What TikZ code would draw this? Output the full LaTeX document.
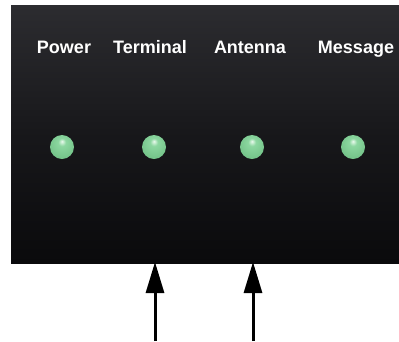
\documentclass[tikz,border=0pt]{standalone}
\usepackage{fontspec}
\setmainfont{Liberation Sans}
\usetikzlibrary{arrows.meta}
\definecolor{panelTop}{RGB}{44,44,48}
\definecolor{panelBot}{RGB}{10,10,12}
\definecolor{ledhi}{RGB}{235,250,238}
\definecolor{ledmid}{RGB}{140,215,160}
\definecolor{ledout}{RGB}{55,145,80}
\pgfdeclareradialshading{ledshade}{\pgfpoint{0bp}{12bp}}{color(0bp)=(ledhi); color(8bp)=(ledmid); color(30bp)=(ledmid!70!ledout); color(50bp)=(ledout)}
\tikzset{
  lbl/.style={text=white,font=\bfseries\fontsize{18}{21}\selectfont,inner sep=0pt,anchor=base},
  led/.style={circle,minimum size=24pt,inner sep=0pt,shading=ledshade},
  uparrow/.style={line width=3pt,-{Triangle[length=31pt,width=18pt]}}
}
\begin{document}
\begin{tikzpicture}[x=1pt,y=-1pt]
\useasboundingbox (0,0) rectangle (399,341);
\fill[white] (0,0) rectangle (399,341);
\shade[top color=panelTop,bottom color=panelBot,middle color=panelBot!60!panelTop] (11,5) rectangle (399,263);
\node[lbl] (power) at (64,53) {Power};
\node[lbl] (terminal) at (150,53) {Terminal};
\node[lbl] (antenna) at (250,53) {Antenna};
\node[lbl] (message) at (356,53) {Message};
\node[led] (l1) at (62,147) {};
\node[led] (l2) at (154,147) {};
\node[led] (l3) at (252,147) {};
\node[led] (l4) at (353,147) {};
\coordinate (a1s) at (155,341);
\coordinate (a1e) at (155,262);
\coordinate (a2s) at (253,341);
\coordinate (a2e) at (253,262);
\draw[uparrow] (a1s) -- (a1e);
\draw[uparrow] (a2s) -- (a2e);
\end{tikzpicture}
\end{document}
